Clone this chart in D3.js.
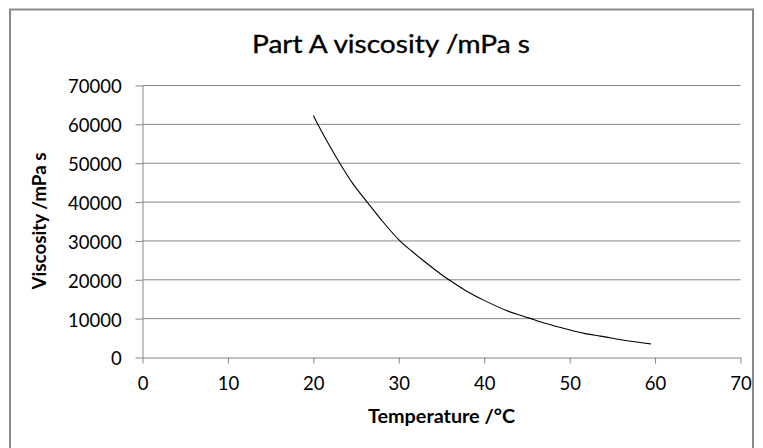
<!DOCTYPE html>
<html>
<head>
<meta charset="utf-8">
<script src="https://cdn.jsdelivr.net/npm/d3@7"></script>
<style>
  html, body { margin: 0; padding: 0; background: #fff; }
  svg { display: block; }
</style>
</head>
<body>
<svg id="chart" width="763" height="448"></svg>
<script>
// ---- data ----
const temperature = [20.0, 20.6, 22.0, 23.15, 24.6, 26.3, 28.0, 30.1, 31.5, 32.9, 34.9, 36.0, 38.0, 40.0, 42.6, 45.2, 47.1, 49.5, 51.7, 53.6, 57.4, 59.5];
const viscosity   = [62300, 59700, 54100, 49800, 44800, 40000, 35300, 30100, 27400, 24900, 21500, 19800, 17000, 14700, 12100, 10200, 8800, 7400, 6200, 5500, 4100, 3500];
const xTicks = [0, 10, 20, 30, 40, 50, 60, 70];
const yTicks = [0, 10000, 20000, 30000, 40000, 50000, 60000, 70000];
const titleText = "Part A viscosity /mPa s";
const xTitleText = "Temperature /°C";
const yTitleText = "Viscosity /mPa s";

const svg = d3.select("#chart");
const FONT = "Lato, 'Open Sans', sans-serif";
const GRID = "#868686";

svg.append("rect").attr("width", 763).attr("height", 448).attr("fill", "#fff");

const x = d3.scaleLinear().domain([0, 70]).range([142.5, 740.5]);
const y = d3.scaleLinear().domain([0, 70000]).range([357.5, 85.5]);

// gridlines
svg.append("g").selectAll("line").data(yTicks.filter(d => d > 0)).join("line")
  .attr("x1", x(0)).attr("x2", x(70))
  .attr("y1", d => y(d)).attr("y2", d => y(d))
  .attr("stroke", GRID).attr("stroke-width", 1);

// y axis
const yAxis = svg.append("g").attr("transform", `translate(${x(0)},0)`)
  .call(d3.axisLeft(y).tickValues(yTicks).tickSize(7).tickSizeOuter(0).tickPadding(13.8).tickFormat(d3.format("d")));
yAxis.select(".domain").attr("stroke", GRID);
yAxis.selectAll(".tick line").attr("stroke", GRID);
yAxis.selectAll("text").attr("font-family", FONT).attr("font-size", 18.5).attr("fill", "#000").attr("dy", "0.4em");

// x axis
const xAxis = svg.append("g").attr("transform", `translate(0,${y(0)})`)
  .call(d3.axisBottom(x).tickValues(xTicks).tickSize(6).tickSizeOuter(0).tickPadding(13.4).tickFormat(d3.format("d")));
xAxis.select(".domain").attr("stroke", GRID);
xAxis.selectAll(".tick line").attr("stroke", GRID);
xAxis.selectAll("text").attr("font-family", FONT).attr("font-size", 18.5).attr("fill", "#000");

// curve
const pts = temperature.map((t, i) => [t, viscosity[i]]);
svg.append("path").datum(pts)
  .attr("fill", "none").attr("stroke", "#000").attr("stroke-width", 1.1)
  .attr("d", d3.line().x(d => x(d[0])).y(d => y(d[1])).curve(d3.curveMonotoneX));

// titles
svg.append("text").attr("x", 391).attr("y", 53.3).attr("text-anchor", "middle")
  .attr("font-family", FONT).attr("font-size", 25).attr("fill", "#000")
  .attr("stroke", "#000").attr("stroke-width", 0.35)
  .attr("textLength", 278).attr("lengthAdjust", "spacingAndGlyphs")
  .text(titleText);

svg.append("text").attr("x", 441.5).attr("y", 423.3).attr("text-anchor", "middle")
  .attr("font-family", FONT).attr("font-size", 18).attr("font-weight", "bold").attr("fill", "#000")
  .attr("textLength", 147).attr("lengthAdjust", "spacingAndGlyphs")
  .text(xTitleText);

svg.append("text").attr("transform", "translate(46,221) rotate(-90)").attr("text-anchor", "middle")
  .attr("font-family", FONT).attr("font-size", 18).attr("font-weight", "bold").attr("fill", "#000")
  .attr("textLength", 137).attr("lengthAdjust", "spacingAndGlyphs")
  .text(yTitleText);

// outer chart border
svg.append("rect").attr("x", 10).attr("y", 9.5).attr("width", 743).attr("height", 500)
  .attr("fill", "none").attr("stroke", "#8a8a8a").attr("stroke-width", 2);
</script>
</body>
</html>
